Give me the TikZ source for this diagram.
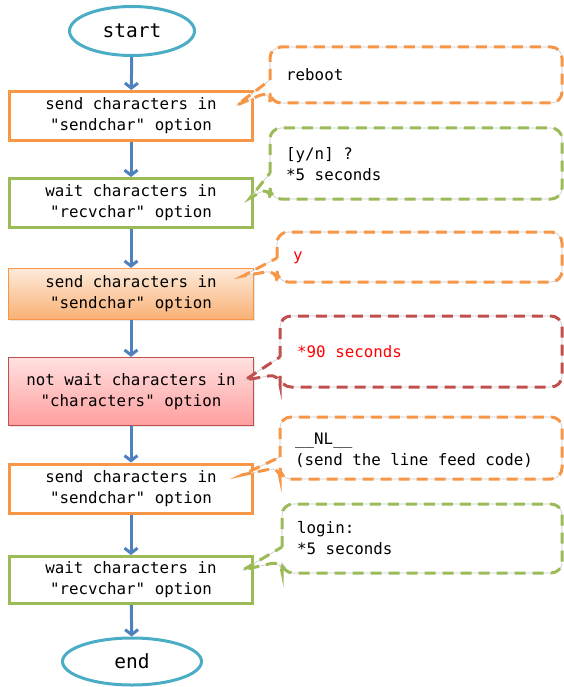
\documentclass[tikz,border=0pt]{standalone}
\usepackage{fontspec}
\setmonofont{DejaVu Sans Mono}
\usetikzlibrary{arrows.meta,shapes.geometric,shadows}
\definecolor{orng}{HTML}{F79646}
\definecolor{grn}{HTML}{9BBB59}
\definecolor{cyanc}{HTML}{4BACC6}
\definecolor{arrblue}{HTML}{4F81BD}
\definecolor{redc}{HTML}{C0504D}
\definecolor{brightred}{HTML}{FF0000}
\newcommand\calloutshape[8]{%
  % #1 colour, #2 left, #3 top, #4 right, #5 bottom, #6 yA, #7 yB, #8 tip
  \path[fill=white,draw=black!22,line width=0.6pt]
    (#2,#6) [rounded corners=11pt] -- (#2,#3) -- (#4,#3) -- (#4,#5) -- (#2,#5) -- (#2,#7) [sharp corners] -- (#8) -- cycle;
  \path[draw=#1,calloutline]
    (#2,#6) [rounded corners=11pt] -- (#2,#3) -- (#4,#3) -- (#4,#5) -- (#2,#5) -- (#2,#7) [sharp corners] -- (#8) -- cycle;
}
\tikzset{
  txt/.style={font=\ttfamily\fontsize{15.8}{21}\selectfont},
  flowbox/.style={rectangle, txt, align=center, inner sep=0pt, minimum width=243pt, minimum height=49pt},
  outlinebox/.style={flowbox, draw=#1, line width=3pt, fill=white},
  term/.style={ellipse, draw=cyanc, line width=3pt, inner sep=0pt, font=\ttfamily\fontsize{19.5}{22}\selectfont},
  flowarrow/.style={draw=arrblue, line width=3pt, -{Straight Barb[length=5pt,width=13pt]}},
  calloutline/.style={line width=3pt, dash pattern=on 11pt off 7pt},
  callouttext/.style={txt, anchor=west, align=left, inner sep=0pt},
}
\begin{document}
\begin{tikzpicture}[x=1pt,y=-1pt]
\useasboundingbox (0,0) rectangle (564,687);

% flow nodes
\node[term, minimum width=125pt, minimum height=49pt] (start) at (132,31) {start};
\node[outlinebox=orng] (b1) at (131,116) {send characters in\\"sendchar" option};
\node[outlinebox=grn] (b2) at (131,203) {wait characters in\\"recvchar" option};
\node[flowbox, draw=orng, line width=1.3pt, minimum width=245pt, minimum height=51pt,
      top color=orng!20, bottom color=orng!75,
      drop shadow={opacity=0.2, shadow xshift=1.2pt, shadow yshift=-1.2pt}] (b3) at (131,294) {send characters in\\"sendchar" option};
\node[flowbox, draw=redc, line width=1.3pt, minimum width=245pt, minimum height=68pt,
      top color=red!12, bottom color=red!38,
      drop shadow={opacity=0.2, shadow xshift=1.2pt, shadow yshift=-1.2pt}] (b4) at (131,391.5) {not wait characters in\\"characters" option};
\node[outlinebox=orng] (b5) at (131,488.5) {send characters in\\"sendchar" option};
\node[outlinebox=grn, minimum height=47pt] (b6) at (131,580) {wait characters in\\"recvchar" option};
\node[term, minimum width=139pt, minimum height=47pt] (end) at (132,661.5) {end};

% connectors
\draw[flowarrow] (start) -- (b1);
\draw[flowarrow] (b1) -- (b2);
\draw[flowarrow] (b2) -- (b3);
\draw[flowarrow] (b3) -- (b4);
\draw[flowarrow] (b4) -- (b5);
\draw[flowarrow] (b5) -- (b6);
\draw[flowarrow] (b6) -- (end);

% callout tips
\coordinate (t1) at (237,105);
\coordinate (t2) at (250,198);
\coordinate (t3) at (243,276);
\coordinate (t4) at (245,380);
\coordinate (t5) at (242,475);
\coordinate (t6) at (243,570);

% callouts
\calloutshape{orng}{270}{47}{562}{103}{80}{91}{t1}
\calloutshape{grn}{270}{128}{562}{199}{173}{187}{t2}
\calloutshape{orng}{277}{232}{562}{282}{258}{270}{t3}
\calloutshape{redc}{280}{316}{562}{387}{357}{374}{t4}
\calloutshape{orng}{280}{417}{562}{479}{457}{467}{t5}
\calloutshape{grn}{282}{504}{562}{573}{547}{561}{t6}

\node[callouttext] (c1) at (286,75) {reboot};
\node[callouttext] (c2) at (286,164) {[y/n] ?\\*5 seconds};
\node[callouttext, text=brightred] (c3) at (293,258) {y};
\node[callouttext, text=brightred] (c4) at (297,351.5) {*90 seconds};
\node[callouttext] (c5) at (295,450) {\_\_NL\_\_\\(send the line feed code)};
\node[callouttext] (c6) at (297,538) {login:\\*5 seconds};
\end{tikzpicture}
\end{document}
